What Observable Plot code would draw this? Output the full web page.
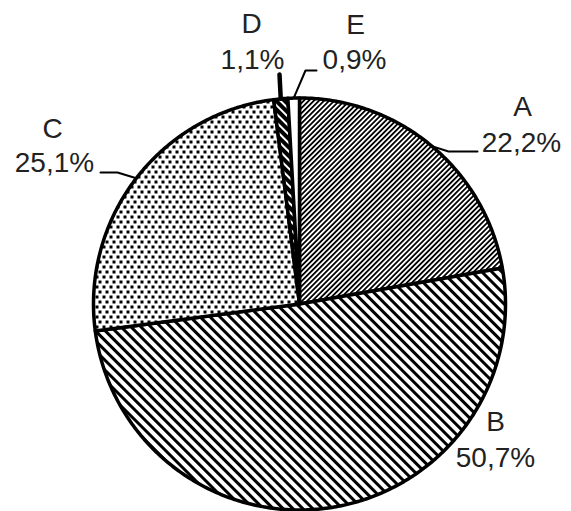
<!DOCTYPE html>
<html><head><meta charset="utf-8">
<script src="https://cdn.jsdelivr.net/npm/d3@7"></script>
<script src="https://cdn.jsdelivr.net/npm/@observablehq/plot@0.6"></script>
<style>html,body{margin:0;padding:0;background:#fff;overflow:hidden}</style>
</head><body><div id="chart"></div>
<script>
// ---- data ----
const categories = ["A", "B", "C", "D", "E"];
const shares = [22.2, 50.7, 25.1, 1.1, 0.9];
const shareLabels = ["22,2%", "50,7%", "25,1%", "1,1%", "0,9%"];

// ---- styles / layout (not data) ----
const fills = {A: "url(#pA)", B: "url(#pB)", C: "url(#pC)", D: "url(#pD)", E: "white"};
const W = 571, H = 511, CX = 299, CY = 303.5, R = 206;
const px = (x) => (x - CX) / R;          // pixel -> data helpers for layout constants
const py = (y) => (CY - y) / R;
// label anchors (center, baseline) for name and percentage
const labelLayout = {
  A: {name: [522, 115], pct: [521, 151]},
  B: {name: [495, 430], pct: [495, 466]},
  C: {name: [52, 137],  pct: [54, 171]},
  D: {name: [251, 32],  pct: [252, 68]},
  E: {name: [355, 33],  pct: [354, 68]}
};
// leader lines: start on circle at slice mid-angle, then these extra points
const leaderLayout = {
  A: {pts: [[448, 151], [477, 151]], w: 2},
  C: {pts: [[117, 172], [100, 172]], w: 2},
  D: {pts: [[279, 74]], w: 4.5},
  E: {pts: [[305, 70], [316, 70]], w: 2}
};

const data = categories.map((c, i) => ({cat: c, value: shares[i], label: shareLabels[i]}));
const arcs = d3.pie().sort(null).value(d => d.value).startAngle(0).endAngle(2 * Math.PI)(data);

const marks = [];
for (const a of arcs) {
  const pts = [{x: 0, y: 0}];
  const n = Math.max(2, Math.ceil((a.endAngle - a.startAngle) / 0.01));
  for (let k = 0; k <= n; k++) {
    const t = a.startAngle + (a.endAngle - a.startAngle) * k / n;
    pts.push({x: Math.sin(t), y: Math.cos(t)});
  }
  marks.push(Plot.line(pts, {x: "x", y: "y", curve: "linear-closed",
    fill: fills[a.data.cat], stroke: "black", strokeWidth: 3.5, strokeLinejoin: "round"}));
}
for (const a of arcs) {
  const L = leaderLayout[a.data.cat];
  if (!L) continue;
  const m = (a.startAngle + a.endAngle) / 2;
  const pts = [{x: Math.sin(m), y: Math.cos(m)}].concat(L.pts.map(p => ({x: px(p[0]), y: py(p[1])})));
  marks.push(Plot.line(pts, {x: "x", y: "y", stroke: "black", strokeWidth: L.w}));
}
const textRows = [];
for (const d of data) {
  const l = labelLayout[d.cat];
  textRows.push({x: px(l.name[0]), y: py(l.name[1]), t: d.cat});
  textRows.push({x: px(l.pct[0]), y: py(l.pct[1]), t: d.label});
}
marks.push(Plot.text(textRows, {x: "x", y: "y", text: "t", textAnchor: "middle", lineAnchor: "bottom",
  fontSize: 28, fontFamily: "Liberation Sans, Arial, sans-serif", fill: "#222"}));

const svg = Plot.plot({
  width: W, height: H,
  x: {domain: [-1, 1], range: [CX - R, CX + R], axis: null},
  y: {domain: [-1, 1], range: [CY + R, CY - R], axis: null},
  style: {background: "white", overflow: "visible"},
  marks
});
const defs = d3.select(svg).insert("defs", ":first-child");
function stripes(id, period, black, angle, bg, fg) {
  const p = defs.append("pattern").attr("id", id).attr("patternUnits", "userSpaceOnUse")
    .attr("width", period).attr("height", period).attr("patternTransform", `rotate(${angle})`);
  p.append("rect").attr("width", period).attr("height", period).attr("fill", bg);
  p.append("rect").attr("width", black).attr("height", period).attr("fill", fg);
}
stripes("pA", 3.6, 1.8, 45, "white", "black");
stripes("pB", 7, 3, -45, "white", "black");
stripes("pD", 6, 2, -45, "black", "white");
const pc = defs.append("pattern").attr("id", "pC").attr("patternUnits", "userSpaceOnUse")
  .attr("width", 7).attr("height", 10);
pc.append("rect").attr("width", 7).attr("height", 10).attr("fill", "white");
pc.append("rect").attr("x", 0).attr("y", 0).attr("width", 3).attr("height", 3).attr("fill", "black").attr("shape-rendering", "crispEdges");
pc.append("rect").attr("x", 3.5).attr("y", 5).attr("width", 3).attr("height", 3).attr("fill", "black").attr("shape-rendering", "crispEdges");
document.getElementById("chart").append(svg);
</script>
</body></html>
